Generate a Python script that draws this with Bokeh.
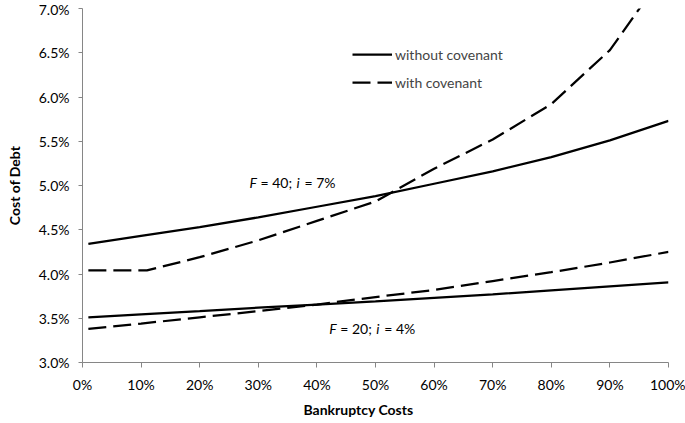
from bokeh.plotting import figure
from bokeh.models import Range1d, FixedTicker, Legend, LegendItem, Label, Title
from bokeh.embed import file_html
from bokeh.resources import INLINE

FONT = "Lato"

# bankruptcy costs (%), the covenant line with F=40 has a kink at 11%
bc = [1, 10, 20, 30, 40, 50, 60, 70, 80, 90, 100]
bc_kink = [1, 11, 20, 30, 40, 50, 60, 70, 80, 90, 100]

# cost of debt (%)
f40_without = [4.34, 4.43, 4.53, 4.64, 4.76, 4.88, 5.02, 5.16, 5.32, 5.51, 5.73]
f40_with = [4.04, 4.04, 4.19, 4.38, 4.60, 4.82, 5.19, 5.52, 5.92, 6.53, 7.46]
f20_without = [3.51, 3.545, 3.58, 3.62, 3.655, 3.69, 3.73, 3.77, 3.815, 3.86, 3.905]
f20_with = [3.38, 3.44, 3.51, 3.58, 3.655, 3.74, 3.82, 3.92, 4.02, 4.13, 4.25]

x_ticks = [0, 10, 20, 30, 40, 50, 60, 70, 80, 90, 100]
x_tick_labels = ["0%", "10%", "20%", "30%", "40%", "50%", "60%", "70%", "80%", "90%", "100%"]
y_ticks = [3.0, 3.5, 4.0, 4.5, 5.0, 5.5, 6.0, 6.5, 7.0]
y_tick_labels = ["3.0%", "3.5%", "4.0%", "4.5%", "5.0%", "5.5%", "6.0%", "6.5%", "7.0%"]

p = figure(width=685, height=423,
           x_range=Range1d(0, 100), y_range=Range1d(3.0, 7.0),
           output_backend="svg", toolbar_location=None,
           min_border_left=82, min_border_right=17,
           min_border_top=8, min_border_bottom=61)
p.outline_line_color = None
p.grid.grid_line_color = None

AXIS_GREY = "#868686"
for ax in (p.xaxis[0], p.yaxis[0]):
    ax.axis_line_color = AXIS_GREY
    ax.major_tick_line_color = AXIS_GREY
    ax.minor_tick_line_color = None
    ax.major_tick_in = 0
    ax.major_label_text_font = FONT
    ax.major_label_text_font_size = "14px"
    ax.major_label_text_color = "black"

p.xaxis.ticker = FixedTicker(ticks=x_ticks)
p.xaxis.major_label_overrides = dict(zip(x_ticks, x_tick_labels))
p.xaxis.major_tick_out = 5
p.xaxis.major_label_standoff = 8

p.yaxis.ticker = FixedTicker(ticks=y_ticks)
p.yaxis.major_label_overrides = dict(zip(y_ticks, y_tick_labels))
p.yaxis.major_tick_out = 4
p.yaxis.major_label_standoff = 9
p.yaxis.axis_label = "Cost of Debt"
p.yaxis.axis_label_text_font = FONT
p.yaxis.axis_label_text_font_size = "14px"
p.yaxis.axis_label_text_font_style = "bold"
p.yaxis.axis_label_text_color = "black"
p.yaxis.axis_label_standoff = 13

LW = 2.25
DASH = "18 7"
r_without = p.line(bc, f40_without, line_width=LW, color="black")
r_with = p.line(bc_kink, f40_with, line_width=LW, color="black", line_dash=DASH)
p.line(bc, f20_without, line_width=LW, color="black")
p.line(bc, f20_with, line_width=LW, color="black", line_dash=DASH)

legend = Legend(items=[LegendItem(label="without covenant", renderers=[r_without]),
                       LegendItem(label="with covenant", renderers=[r_with])],
                location=(270, 270), glyph_width=40, glyph_height=20,
                label_height=20, label_standoff=3, spacing=8,
                padding=0, margin=0, border_line_alpha=0,
                background_fill_alpha=0,
                label_text_font=FONT, label_text_font_size="14px")
p.add_layout(legend)


def add_note(x, y, pieces):
    # mixed italic / upright text, one Label per piece
    for dx, txt, style in pieces:
        p.add_layout(Label(x=x, y=y, x_offset=dx, text=txt,
                           text_font=FONT, text_font_style=style,
                           text_font_size="14px", text_baseline="middle",
                           text_color="black"))


add_note(28.5, 5.03, [(0, "F", "italic"), (11, "= 40;", "normal"),
                      (47, "i", "italic"), (55, "= 7%", "normal")])
add_note(42.1, 3.384, [(0, "F", "italic"), (11, "= 20;", "normal"),
                       (47, "i", "italic"), (55, "= 4%", "normal")])

# x axis title, sits a little left of the plot centre in the original
p.add_layout(Title(text="Bankruptcy Costs", align="left", offset=221,
                   vertical_align="middle", standoff=8,
                   text_font=FONT, text_font_style="bold", text_font_size="14px",
                   text_color="black"), "below")

open("out.html", "w").write(file_html(p, INLINE))
